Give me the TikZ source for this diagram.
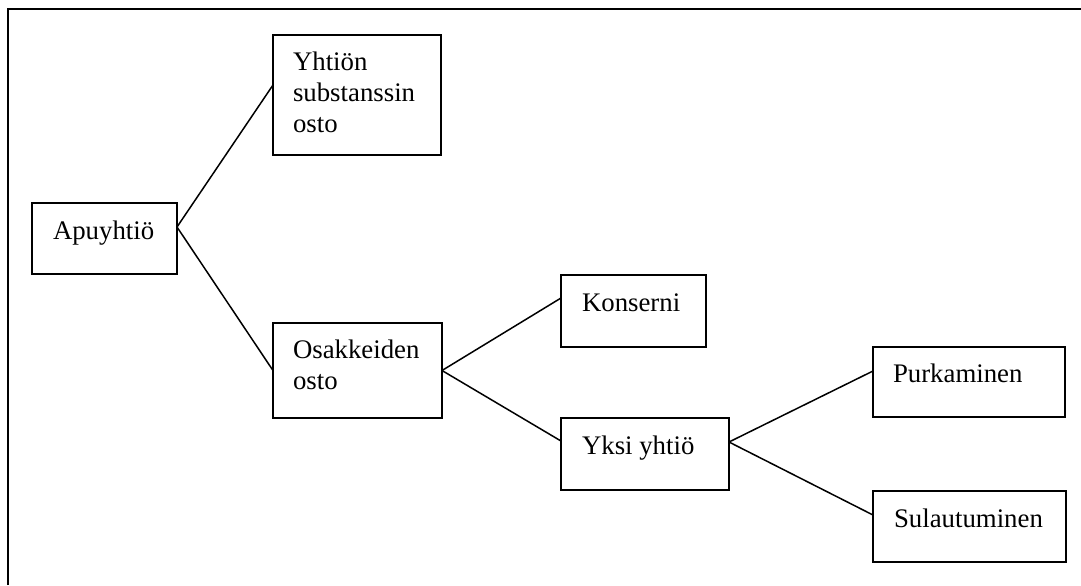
\documentclass[tikz,border=0pt]{standalone}
\usepackage{fontspec}
\setmainfont{Liberation Serif}
\usetikzlibrary{calc}

\tikzset{
  box/.style 2 args={draw, line width=0.8pt, inner sep=0pt, outer sep=0pt,
    minimum width=#1*0.5pt, minimum height=#2*0.5pt},
  lbl/.style={anchor=base west, inner sep=0pt, outer sep=0pt,
    font=\fontsize{13.4pt}{15.5pt}\selectfont},
  link/.style={line width=0.75pt},
  frame/.style={line width=0.8pt}
}

\begin{document}
\begin{tikzpicture}[x=0.5pt, y=-0.5pt]
  \useasboundingbox (0,0) rectangle (1081,585);

  % open frame: only its left and top edges fall inside the page
  \coordinate (fbl) at (8,585);
  \coordinate (ftl) at (8,9);
  \coordinate (ftr) at (1081,9);
  \draw[frame] (fbl) -- (ftl) -- (ftr);

  % boxes
  \node[box={145}{71}]  (apu)  at (104.5,238.5) {};
  \node[box={168}{120}] (sub)  at (357,95)      {};
  \node[box={169}{95}]  (osa)  at (357.5,370.5) {};
  \node[box={145}{72}]  (kon)  at (633.5,311)   {};
  \node[box={168}{72}]  (yksi) at (645,454)     {};
  \node[box={192}{70}]  (pur)  at (969,382)     {};
  \node[box={193}{71}]  (sul)  at (969.5,526.5) {};

  % texts, set from the top left corner of each box
  \node[lbl] (tapu)  at ($(apu.north west)+(21,36)$)  {Apuyhtiö};
  \node[lbl] (tsub1) at ($(sub.north west)+(20,35)$)  {Yhtiön};
  \node[lbl] (tsub2) at ($(sub.north west)+(20,66)$)  {substanssin};
  \node[lbl] (tsub3) at ($(sub.north west)+(20,97)$)  {osto};
  \node[lbl] (tosa1) at ($(osa.north west)+(20,35)$)  {Osakkeiden};
  \node[lbl] (tosa2) at ($(osa.north west)+(20,66)$)  {osto};
  \node[lbl] (tkon)  at ($(kon.north west)+(21,36)$)  {Konserni};
  \node[lbl] (tyksi) at ($(yksi.north west)+(21,36)$) {Yksi yhtiö};
  \node[lbl] (tpur)  at ($(pur.north west)+(20,35)$)  {Purkaminen};
  \node[lbl] (tsul)  at ($(sul.north west)+(21,36)$)  {Sulautuminen};

  % connectors
  \draw[link] ($(apu.east)+(0,-11.5)$) -- ($(sub.west)+(0,-10)$);
  \draw[link] ($(apu.east)+(0,-11.5)$) -- (osa.west);
  \draw[link] (osa.east) -- ($(kon.west)+(0,-13)$);
  \draw[link] (osa.east) -- ($(yksi.west)+(0,-13)$);
  \draw[link] ($(yksi.east)+(0,-12)$) -- ($(pur.west)+(0,-11)$);
  \draw[link] ($(yksi.east)+(0,-12)$) -- ($(sul.west)+(0,-11.5)$);
\end{tikzpicture}
\end{document}
